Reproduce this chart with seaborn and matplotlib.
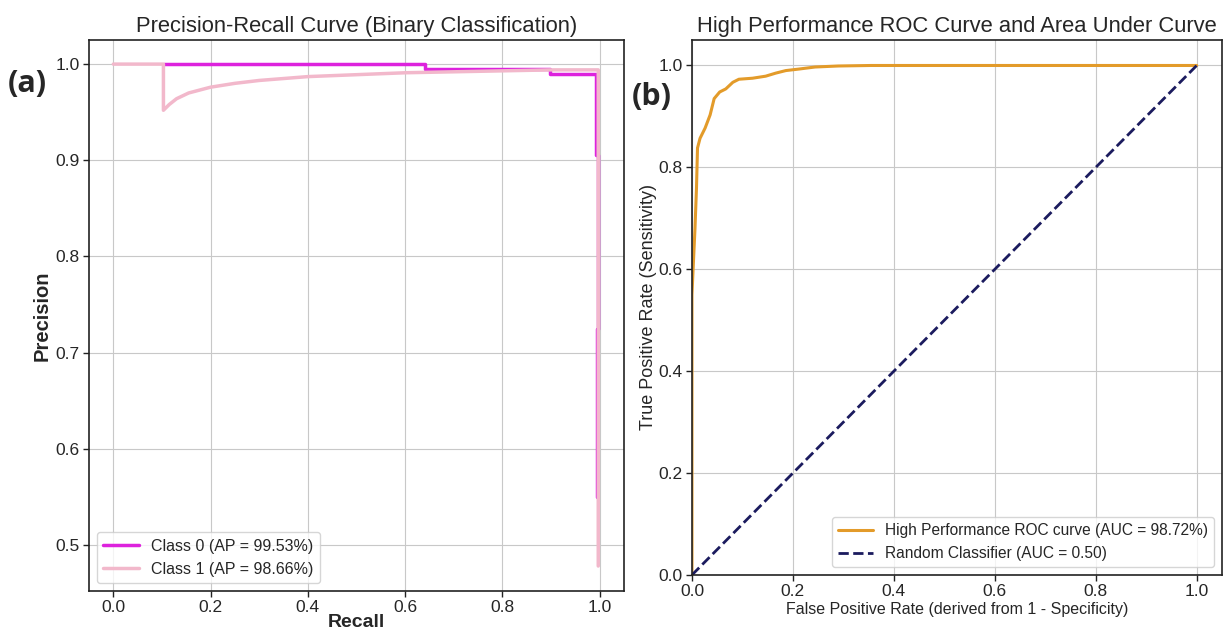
import numpy as np
import pandas as pd
import seaborn as sns
import matplotlib.pyplot as plt

# precision-recall curves
c0_recall = [0.104, 0.640, 0.640, 0.898, 0.898, 0.993, 0.993, 0.997, 0.997, 0.994, 0.994]
c0_precision = [1.000, 1.000, 0.995, 0.995, 0.990, 0.990, 0.905, 0.905, 0.725, 0.725, 0.550]
c1_recall = [0.0, 0.103, 0.103, 0.115, 0.13, 0.155, 0.2, 0.25, 0.3, 0.4, 0.5,
             0.6, 0.7, 0.8, 0.9, 0.997, 0.997]
c1_precision = [1.0, 1.0, 0.952, 0.958, 0.964, 0.970, 0.976, 0.980, 0.983, 0.987,
                0.989, 0.991, 0.992, 0.993, 0.994, 0.994, 0.478]

# ROC curve
fpr = [0.0, 0.0, 0.003, 0.006, 0.009, 0.011, 0.016, 0.026, 0.036, 0.044, 0.055,
       0.067, 0.081, 0.093, 0.12, 0.146, 0.166, 0.186, 0.212, 0.244, 0.29, 0.355,
       0.5, 0.7, 1.0]
tpr = [0.0, 0.55, 0.616, 0.68, 0.76, 0.838, 0.857, 0.877, 0.903, 0.935, 0.948,
       0.954, 0.967, 0.973, 0.975, 0.979, 0.985, 0.99, 0.993, 0.997, 0.999, 1.0,
       1.0, 1.0, 1.0]
chance = [0.0, 1.0]

sns.set_style('whitegrid')
plt.rcParams['font.family'] = ['Liberation Sans', 'DejaVu Sans']
plt.rcParams['axes.edgecolor'] = '#222222'
plt.rcParams['grid.color'] = '#c8c8c8'

fig = plt.figure(figsize=(12.26, 6.34), dpi=100)
ax1 = fig.add_axes([0.0726, 0.0678, 0.4364, 0.869])
ax2 = fig.add_axes([0.5644, 0.0931, 0.4323, 0.8438])

# (a) precision-recall
df0 = pd.DataFrame({'recall': c0_recall, 'precision': c0_precision})
df1 = pd.DataFrame({'recall': c1_recall, 'precision': c1_precision})
sns.lineplot(data=df0, x='recall', y='precision', sort=False, estimator=None,
             color='#dd22dd', lw=2.5, label='Class 0 (AP = 99.53%)', ax=ax1)
sns.lineplot(data=df1, x='recall', y='precision', sort=False, estimator=None,
             color='#f2b8cb', lw=2.5, label='Class 1 (AP = 98.66%)', ax=ax1)
ax1.set_xlim(-0.05, 1.05)
ax1.set_ylim(0.452, 1.025)
ax1.set_xticks(np.arange(0, 1.01, 0.2))
ax1.set_yticks(np.arange(0.5, 1.01, 0.1))
ax1.set_title('Precision-Recall Curve (Binary Classification)', fontsize=15.8, pad=6)
ax1.set_xlabel('Recall', fontsize=14, fontweight='bold', labelpad=-1)
ax1.set_ylabel('Precision', fontsize=14.5, fontweight='bold', labelpad=3)
ax1.legend(loc='lower left', fontsize=11.5, frameon=True, handlelength=2.2)

# (b) ROC
roc = pd.DataFrame({'fpr': fpr, 'tpr': tpr})
sns.lineplot(data=roc, x='fpr', y='tpr', sort=False, estimator=None,
             color='#e39b2a', lw=2.2, label='High Performance ROC curve (AUC = 98.72%)', ax=ax2)
ax2.plot(chance, chance, color='#1b1b5e', lw=2, ls='--', label='Random Classifier (AUC = 0.50)')
ax2.set_xlim(0, 1.05)
ax2.set_ylim(0, 1.05)
ax2.set_xticks(np.arange(0, 1.01, 0.2))
ax2.set_yticks(np.arange(0, 1.01, 0.2))
ax2.set_title('High Performance ROC Curve and Area Under Curve', fontsize=15.8, pad=6)
ax2.set_xlabel('False Positive Rate (derived from 1 - Specificity)', fontsize=11.5, labelpad=2)
ax2.set_ylabel('True Positive Rate (Sensitivity)', fontsize=13, labelpad=1)
ax2.legend(loc='lower right', fontsize=11.2, frameon=True, handlelength=2.2)

for ax in (ax1, ax2):
    ax.tick_params(axis='both', which='major', labelsize=12.5, length=4, width=1, pad=2.5,
                   color='#222222', direction='out', left=True, bottom=True)
    for s in ax.spines.values():
        s.set_linewidth(1.2)

fig.text(0.006, 0.867, '(a)', fontsize=22, fontweight='bold', va='center',
         family=['Open Sans', 'DejaVu Sans'])
fig.text(0.5155, 0.847, '(b)', fontsize=22, fontweight='bold', va='center',
         family=['Open Sans', 'DejaVu Sans'])

fig.savefig('out.png', dpi=100)
